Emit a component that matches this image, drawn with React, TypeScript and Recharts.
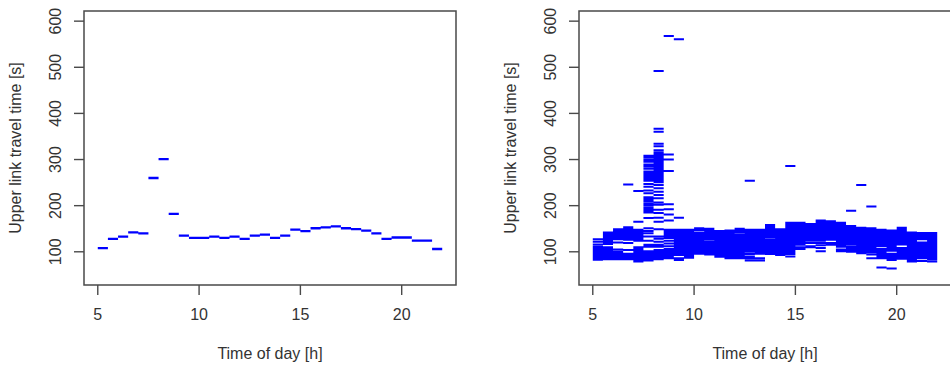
import React from 'react';
import { LineChart, Line, XAxis, YAxis, ReferenceArea } from 'recharts';

// Half-hour time slots (start hour of each slot)
const slotStarts = [5, 5.5, 6, 6.5, 7, 7.5, 8, 8.5, 9, 9.5, 10, 10.5, 11, 11.5, 12, 12.5, 13, 13.5, 14, 14.5, 15, 15.5, 16, 16.5, 17, 17.5, 18, 18.5, 19, 19.5, 20, 20.5, 21, 21.5];
const slotLength = 0.5;

// Left panel: one upper travel time per slot
const leftValues = [108, 128, 133, 142, 140, 260, 301, 182, 135, 130, 130, 133, 130, 133, 128, 135, 137, 130, 135, 148, 145, 151, 153, 155, 151, 149, 146, 140, 128, 131, 131, 124, 124, 106];

// Right panel: many upper travel times per slot
const rightValues: number[][] = [
  [127, 122, 116, 111, 107, 104, 100, 96, 93, 89, 86, 83],
  [142, 138, 135, 131, 127, 124, 120, 117, 110, 106, 102, 98, 95, 91, 87, 84],
  [149, 145, 141, 138, 134, 130, 127, 120, 105, 100, 96, 92, 88, 84],
  [246, 153, 149, 145, 141, 137, 133, 129, 126, 119, 104, 96, 92, 88, 84],
  [232, 165, 148, 144, 140, 136, 132, 128, 124, 110, 106, 102, 98, 94, 90, 86, 82, 79],
  [308, 304, 299, 295, 289, 285, 280, 274, 270, 266, 262, 258, 254, 247, 241, 233, 227, 218, 214, 210, 205, 201, 196, 192, 188, 185, 173, 151, 145, 140, 133, 124, 115, 111, 101, 97, 93, 89, 85, 81],
  [492, 367, 360, 334, 329, 320, 315, 311, 307, 303, 299, 295, 291, 287, 283, 279, 275, 271, 267, 263, 259, 255, 251, 245, 238, 230, 223, 216, 207, 202, 191, 184, 174, 165, 149, 133, 128, 122, 115, 111, 104, 100, 96, 92, 88, 84],
  [568, 311, 300, 275, 203, 192, 181, 168, 148, 145, 141, 137, 133, 130, 124, 118, 112, 106, 102, 98, 94, 90, 86],
  [561, 174, 148, 145, 141, 137, 133, 129, 125, 121, 117, 113, 109, 105, 101, 97, 93, 86, 82],
  [148, 144, 140, 136, 133, 129, 125, 121, 118, 114, 110, 106, 102, 98, 94, 90, 87],
  [151, 147, 142, 138, 134, 131, 127, 123, 119, 115, 111, 107, 103, 99, 96],
  [150, 146, 142, 138, 134, 130, 126, 121, 117, 113, 109, 105, 101, 97, 94],
  [145, 141, 137, 133, 129, 125, 121, 117, 113, 109, 105, 101, 97, 93, 89],
  [146, 142, 138, 134, 130, 126, 122, 118, 114, 110, 106, 102, 98, 94, 90, 86],
  [150, 146, 142, 137, 133, 130, 126, 122, 118, 114, 110, 106, 102, 98, 94, 90, 86],
  [254, 148, 144, 140, 136, 132, 128, 124, 120, 116, 112, 108, 104, 100, 95, 90, 86, 81],
  [148, 144, 140, 136, 132, 128, 124, 120, 116, 112, 108, 104, 100, 96, 86, 81],
  [158, 154, 150, 146, 142, 138, 134, 131, 126, 122, 118, 114, 110, 106, 102, 98, 95],
  [149, 145, 141, 137, 133, 129, 125, 121, 117, 113, 109, 105, 101, 97, 93],
  [286, 163, 159, 155, 151, 147, 143, 139, 135, 131, 127, 123, 119, 115, 111, 107, 103, 99, 95, 90],
  [163, 159, 155, 151, 147, 143, 139, 135, 131, 127, 123, 119, 115, 110, 106],
  [160, 156, 152, 148, 144, 140, 136, 132, 128, 124, 119, 112, 110],
  [168, 164, 160, 156, 152, 148, 144, 140, 136, 132, 128, 124, 119, 114, 108, 101],
  [166, 162, 158, 154, 150, 146, 142, 138, 134, 130, 126, 119, 115],
  [163, 159, 155, 151, 147, 143, 139, 135, 131, 127, 123, 119, 115, 111, 105, 101],
  [189, 156, 152, 148, 144, 140, 136, 132, 128, 124, 120, 116, 111, 107, 103, 100],
  [245, 152, 148, 144, 140, 136, 132, 128, 124, 120, 116, 112, 108, 104, 100, 97],
  [198, 151, 147, 143, 139, 135, 131, 127, 123, 119, 115, 111, 107, 103, 99, 94, 86],
  [148, 144, 140, 136, 132, 128, 124, 120, 116, 112, 106, 102, 98, 94, 90, 86, 66],
  [146, 142, 138, 134, 130, 126, 122, 118, 114, 110, 106, 102, 96, 92, 88, 85, 82, 64],
  [152, 148, 144, 140, 136, 132, 128, 124, 120, 116, 108, 104, 100, 96, 92, 88, 85],
  [142, 138, 134, 130, 126, 122, 118, 114, 110, 106, 102, 98, 94, 90, 86, 82, 79],
  [141, 137, 133, 129, 127, 120, 116, 112, 108, 104, 100, 96, 92, 88, 86, 80],
  [141, 137, 134, 130, 127, 124, 120, 116, 112, 108, 104, 100, 96, 92, 88, 84, 79],
];

const xTicks = [5, 10, 15, 20];
const yTicks = [100, 200, 300, 400, 500, 600];
const xDomain: [number, number] = [4.32, 22.68];
const yDomain: [number, number] = [28, 622];

const xTitle = 'Time of day [h]';
const yTitle = 'Upper link travel time [s]';

const FONT = '"Liberation Sans", Arial, Helvetica, sans-serif';
const INK = '#333333';
const FRAME = '#4a4a4a';
const BLUE = '#0000ff';

type Row = { x: number; y: number | null };

function toSegments(starts: number[], valuesPerSlot: number[][]): Row[] {
  const rows: Row[] = [];
  starts.forEach((t, i) => {
    (valuesPerSlot[i] || []).forEach((v) => {
      rows.push({ x: t, y: v });
      rows.push({ x: t + slotLength, y: v });
      rows.push({ x: t + slotLength, y: null });
    });
  });
  return rows;
}

const leftRows = toSegments(slotStarts, leftValues.map((v) => [v]));
const rightRows = toSegments(slotStarts, rightValues);

const YTick = (props: any) => {
  const { x, y, payload } = props;
  return (
    <text
      transform={`translate(${x - 13.3}, ${y}) rotate(-90)`}
      textAnchor="middle"
      fontSize={16}
      fontFamily={FONT}
      fill={INK}
    >
      {payload.value}
    </text>
  );
};

const Panel = ({ rows, width }: { rows: Row[]; width: number }) => (
  <LineChart width={470} height={368} margin={{ top: 11, right: 14, bottom: 0, left: 0 }}>
    <XAxis
      type="number"
      dataKey="x"
      domain={xDomain}
      allowDataOverflow
      ticks={xTicks}
      interval={0}
      axisLine={false}
      tickSize={10}
      tickMargin={14}
      tickLine={{ stroke: FRAME, strokeWidth: 1.4 }}
      tick={{ fill: INK, fontSize: 16, fontFamily: FONT }}
      height={83}
      label={{ value: xTitle, position: 'insideBottom', offset: 9, fill: INK, fontSize: 16, fontFamily: FONT }}
    />
    <YAxis
      type="number"
      dataKey="y"
      domain={yDomain}
      allowDataOverflow
      ticks={yTicks}
      interval={0}
      axisLine={false}
      tickSize={10}
      tickMargin={0}
      tickLine={{ stroke: FRAME, strokeWidth: 1.4 }}
      tick={<YTick />}
      width={84}
      label={{
        value: yTitle,
        angle: -90,
        position: 'insideLeft',
        offset: 15,
        fill: INK,
        fontSize: 16,
        fontFamily: FONT,
        style: { textAnchor: 'middle' },
      }}
    />
    <ReferenceArea
      x1={xDomain[0]}
      x2={xDomain[1]}
      y1={yDomain[0]}
      y2={yDomain[1]}
      fill="none"
      stroke={FRAME}
      strokeWidth={1.5}
      ifOverflow="visible"
    />
    <Line
      data={rows}
      dataKey="y"
      stroke={BLUE}
      strokeWidth={width}
      dot={false}
      activeDot={false}
      connectNulls={false}
      isAnimationActive={false}
      type="linear"
    />
  </LineChart>
);

export default function App() {
  return (
    <div
      style={{
        position: 'absolute',
        left: 0,
        top: 0,
        width: 950,
        height: 368,
        overflow: 'hidden',
        background: '#ffffff',
      }}
    >
      <div style={{ position: 'absolute', left: 0, top: 0 }}>
        <Panel rows={leftRows} width={2.3} />
      </div>
      <div style={{ position: 'absolute', left: 495.3, top: 0 }}>
        <Panel rows={rightRows} width={2} />
      </div>
    </div>
  );
}
